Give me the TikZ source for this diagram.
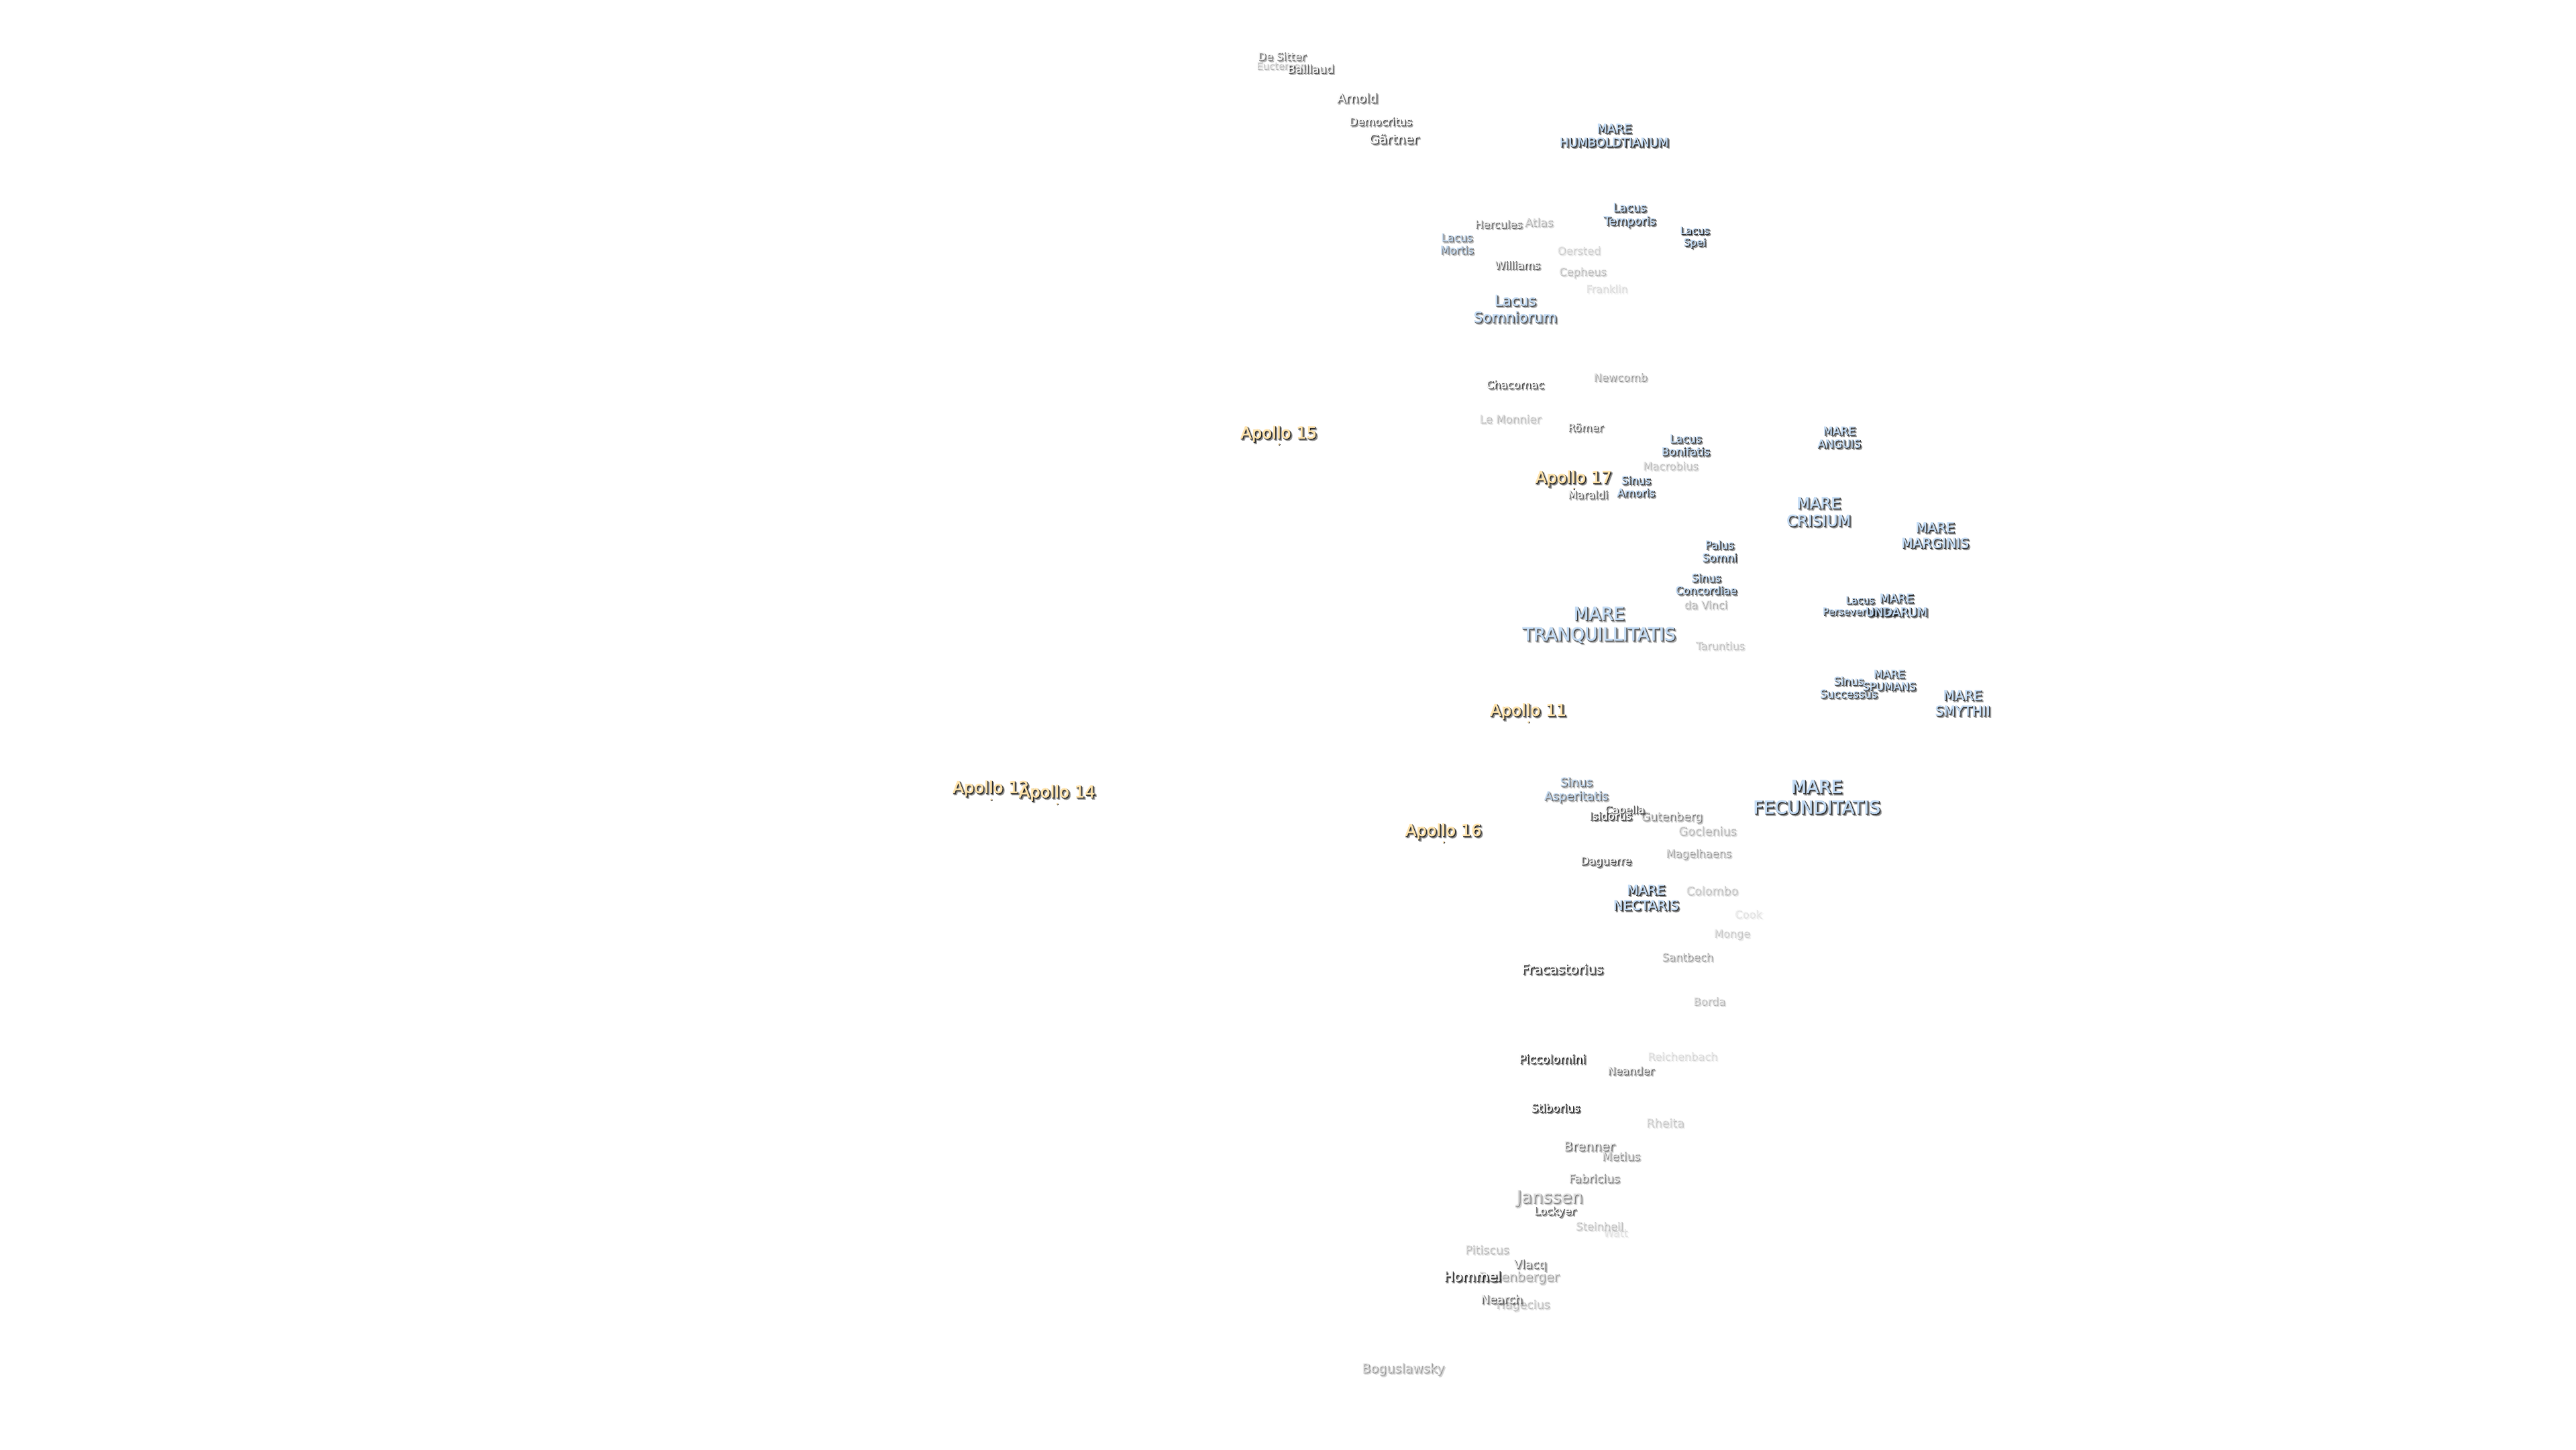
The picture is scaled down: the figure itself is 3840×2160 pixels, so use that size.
\documentclass[tikz,border=0pt]{standalone}
\usepackage{fontspec}
\setmainfont{DejaVu Sans}
\newfontfamily\fatfill[FakeBold=2]{DejaVu Sans}
\newfontfamily\boldshadow[FakeBold=5]{DejaVu Sans}
\newfontfamily\softshadow[FakeBold=7]{DejaVu Sans}
\definecolor{marefill}{HTML}{C4DCF5}
\definecolor{craterfill}{HTML}{FAFAFA}
\definecolor{apollofill}{HTML}{FFE4AC}
\definecolor{shadowdark}{HTML}{222222}
\tikzset{
  lbltext/.style={inner sep=0pt, align=center},
}
% \lab{name}{x}{y}{size}{fill colour}{opacity}{text}
\newcommand{\lab}[7]{%
  \pgfmathsetmacro{\lblsize}{#4*1.012}%
  \pgfmathsetmacro{\lblskip}{#4*1.164}%
  \pgfmathsetmacro{\lblfillop}{min(1,1.25*#6+0.2)}%
  \node[lbltext, text=black, text opacity=0.3*#6,
    font={\softshadow\fontsize{\lblsize}{\lblskip}\selectfont}] (#1-b) at (#2+2.4,#3+2.4) {#7};
  \node[lbltext, text=shadowdark, text opacity=0.85*#6,
    font={\boldshadow\fontsize{\lblsize}{\lblskip}\selectfont}] (#1-s) at (#2+0.7,#3+0.7) {#7};
  \node[lbltext, text=#5, text opacity=\lblfillop,
    font={\fatfill\fontsize{\lblsize}{\lblskip}\selectfont}] (#1) at (#2-0.4,#3-0.4) {#7};
}
\newcommand{\moon}[6]{\lab{#1}{#2}{#3}{#4}{marefill}{#5}{#6}}
\newcommand{\crat}[6]{\lab{#1}{#2}{#3}{#4}{craterfill}{#5}{#6}}
\newcommand{\apollo}[5]{%
  \lab{#1}{#2}{#3}{24}{apollofill}{1}{#5}%
  \fill[shadowdark] (#2+0.7,#4+0.7) circle (1.7);
  \fill[apollofill] (#2,#4) circle (1.4);
}
\begin{document}
\begin{tikzpicture}[x=1pt,y=-1pt]
\useasboundingbox (0,0) rectangle (3840,2160);
\fill[white] (0,0) rectangle (3840,2160);
% north
\crat{desitter}{1911}{84}{16}{0.55}{De Sitter}
\crat{euctemon}{1910}{98}{14.5}{0.2}{Euctemon}
\crat{baillaud}{1954}{102.5}{17}{0.6}{Baillaud}
\crat{arnold}{2023.5}{146}{18.5}{0.65}{Arnold}
\crat{democritus}{2058}{181}{16}{0.7}{Democritus}
\crat{gaertner}{2078}{207}{19}{0.7}{Gärtner}
\moon{humboldtianum}{2406.5}{202}{17.7}{1}{MARE\\HUMBOLDTIANUM}
\moon{temporis}{2429.5}{321}{17}{0.9}{Lacus\\Temporis}
\moon{spei}{2526.5}{354}{15}{0.95}{Lacus\\Spei}
\crat{hercules}{2234}{334}{16}{0.5}{Hercules}
\crat{atlas}{2294}{331}{17}{0.22}{Atlas}
\moon{mortis}{2172}{363.5}{16}{0.5}{Lacus\\Mortis}
\crat{oersted}{2353.5}{373}{16}{0.14}{Oersted}
\crat{williams}{2262}{395}{16}{0.6}{Williams}
\crat{cepheus}{2359}{406}{16}{0.2}{Cepheus}
\crat{franklin}{2395}{430}{15.5}{0.1}{Franklin}
\moon{somniorum}{2259}{460.5}{21.3}{0.7}{Lacus\\Somniorum}
% middle
\crat{newcomb}{2415.5}{562}{16}{0.3}{Newcomb}
\crat{chacornac}{2258.5}{573}{16}{0.7}{Chacornac}
\crat{lemonnier}{2251}{624}{16.4}{0.2}{Le Monnier}
\crat{roemer}{2363.5}{637}{16}{0.6}{Römer}
\apollo{apfifteen}{1906.5}{647}{662}{Apollo 15}
\moon{bonifatis}{2513}{663.5}{16.3}{0.85}{Lacus\\Bonifatis}
\crat{macrobius}{2490}{694}{16}{0.2}{Macrobius}
\moon{anguis}{2742}{652}{16.5}{0.95}{MARE\\ANGUIS}
\apollo{apseventeen}{2346}{713.5}{728}{Apollo 17}
\crat{maraldi}{2367}{737}{16}{0.6}{Maraldi}
\moon{amoris}{2439}{725}{16}{0.85}{Sinus\\Amoris}
\moon{crisium}{2711.5}{763}{22.5}{0.85}{MARE\\CRISIUM}
\moon{marginis}{2885}{798}{20}{0.9}{MARE\\MARGINIS}
\moon{somni}{2563.5}{821.5}{16.3}{0.85}{Palus\\Somni}
\moon{concordiae}{2543.5}{870.5}{16}{0.85}{Sinus\\Concordiae}
\crat{davinci}{2542.5}{901}{16}{0.25}{da Vinci}
\moon{perseverantiae}{2773}{903}{14.7}{0.9}{Lacus\\Perseverantiae}
\moon{undarum}{2827.5}{902}{17.5}{1}{MARE\\UNDARUM}
\moon{tranquillitatis}{2384}{931.5}{26.2}{0.7}{MARE\\TRANQUILLITATIS}
\crat{taruntius}{2564}{962}{15.7}{0.18}{Taruntius}
\moon{successus}{2756}{1024.5}{16.3}{0.8}{Sinus\\Successus}
\moon{spumans}{2816.5}{1014}{16}{0.9}{MARE\\SPUMANS}
\moon{smythii}{2926}{1048}{20}{0.85}{MARE\\SMYTHII}
\apollo{apeleven}{2278.5}{1060.5}{1076}{Apollo 11}
\apollo{aptwelve}{1477.5}{1175.5}{1191.7}{Apollo 12}
\apollo{apfourteen}{1576}{1182}{1198}{Apollo 14}
\apollo{apsixteen}{2152}{1239.5}{1255}{Apollo 16}
% south
\moon{asperitatis}{2350}{1177.5}{17.6}{0.5}{Sinus\\Asperitatis}
\crat{gutenberg}{2492}{1218}{17}{0.4}{Gutenberg}
\crat{capella}{2422}{1208}{15.7}{0.75}{Capella}
\crat{isidorus}{2401}{1216}{16}{0.85}{Isidorus}
\crat{goclenius}{2545}{1238}{17.4}{0.22}{Goclenius}
\crat{magelhaens}{2532}{1273}{16}{0.28}{Magelhaens}
\crat{daguerre}{2394}{1284.5}{16}{0.75}{Daguerre}
\moon{nectaris}{2454}{1338}{19.6}{1}{MARE\\NECTARIS}
\crat{colombo}{2552}{1327}{17.3}{0.18}{Colombo}
\crat{cook}{2606}{1362}{16}{0.08}{Cook}
\crat{monge}{2581.5}{1392.5}{15.8}{0.15}{Monge}
\crat{santbech}{2515.5}{1426}{16}{0.3}{Santbech}
\crat{fracastorius}{2329}{1444}{19.8}{0.9}{Fracastorius}
\crat{borda}{2548}{1492}{16}{0.2}{Borda}
\moon{fecunditatis}{2708.5}{1188}{26.3}{1}{MARE\\FECUNDITATIS}
\crat{reichenbach}{2508}{1574}{16}{0.1}{Reichenbach}
\crat{piccolomini}{2314}{1578}{17.4}{1}{Piccolomini}
\crat{neander}{2431}{1595.5}{16}{0.55}{Neander}
\crat{stiborius}{2319}{1651}{16.3}{1}{Stiborius}
\crat{rheita}{2482}{1673}{17.3}{0.15}{Rheita}
\crat{brenner}{2369}{1708}{18.7}{0.5}{Brenner}
\crat{metius}{2416.5}{1723}{17}{0.35}{Metius}
\crat{fabricius}{2376.5}{1756}{17}{0.42}{Fabricius}
\crat{janssen}{2310}{1786}{25.6}{0.35}{Janssen}
\crat{lockyer}{2318}{1806}{15.8}{0.7}{Lockyer}
\crat{watt}{2408}{1837}{15.4}{0.08}{Watt}
\crat{steinheil}{2384}{1827}{16}{0.18}{Steinheil}
\crat{pitiscus}{2216.5}{1862}{17.2}{0.2}{Pitiscus}
\crat{vlacq}{2281}{1885.5}{17.5}{0.5}{Vlacq}
\crat{rosenberger}{2264}{1904}{18.7}{0.28}{Rosenberger}
\crat{hommel}{2195}{1902}{20}{1}{Hommel}
\crat{hagecius}{2270}{1945}{17.2}{0.2}{Hagecius}
\crat{nearch}{2238.5}{1936}{17.3}{0.55}{Nearch}
\crat{boguslawsky}{2091.6}{2040.5}{18.8}{0.3}{Boguslawsky}
\end{tikzpicture}
\end{document}
